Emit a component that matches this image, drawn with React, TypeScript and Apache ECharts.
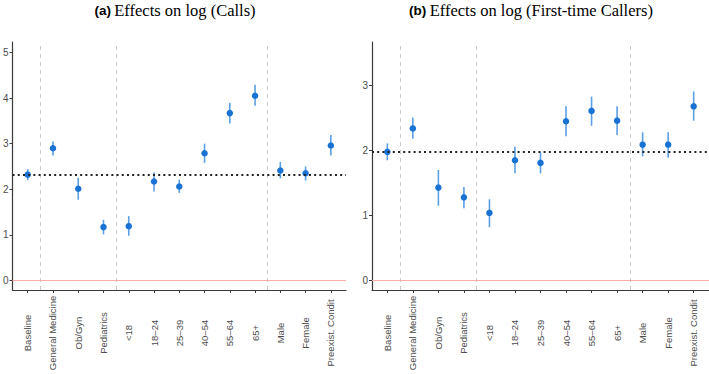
import React, { useEffect, useRef } from "react";
import * as echarts from "echarts";

const categories = [
  "Baseline", "General Medicine", "Ob/Gyn", "Pediatrics", "<18", "18–24", "25–39",
  "40–54", "55–64", "65+", "Male", "Female", "Preexist. Condit",
];

// Panel (a): Effects on log (Calls)
const callsEst = [2.32, 2.9, 2.01, 1.17, 1.19, 2.17, 2.06, 2.79, 3.67, 4.05, 2.41, 2.35, 2.96];
const callsLo = [2.2, 2.74, 1.77, 1.01, 0.98, 1.95, 1.92, 2.58, 3.44, 3.83, 2.24, 2.19, 2.74];
const callsHi = [2.44, 3.05, 2.25, 1.33, 1.41, 2.37, 2.21, 3.0, 3.9, 4.29, 2.6, 2.5, 3.19];
const callsBaseline = 2.31;
const callsTicks = [0, 1, 2, 3, 4, 5];

// Panel (b): Effects on log (First-time Callers)
const firstEst = [1.98, 2.34, 1.43, 1.28, 1.04, 1.85, 1.81, 2.45, 2.61, 2.46, 2.09, 2.09, 2.68];
const firstLo = [1.85, 2.18, 1.15, 1.11, 0.82, 1.65, 1.65, 2.22, 2.38, 2.24, 1.91, 1.89, 2.46];
const firstHi = [2.11, 2.51, 1.7, 1.44, 1.25, 2.06, 1.97, 2.68, 2.83, 2.68, 2.28, 2.28, 2.91];
const firstBaseline = 1.98;
const firstTicks = [0, 1, 2, 3];

const groupBreaks = [0.5, 3.5, 9.5];

const idx = categories.map((_, i) => i);

const POINT = "#1a72d4";
const BAR = "#5b9fe6";
const AXIS = "#3a3a3a";
const LABEL = "#4d4d4d";

function makeX(gridIndex: number) {
  return {
    type: "value",
    gridIndex,
    min: -0.6,
    max: 12.6,
    axisLine: { show: true, onZero: false, lineStyle: { color: AXIS, width: 1.2 } },
    axisTick: { show: true, customValues: idx, length: 3, lineStyle: { color: AXIS } },
    axisLabel: {
      customValues: idx,
      formatter: (v: number) => categories[Math.round(v)] ?? "",
      rotate: 90,
      align: "center",
      verticalAlign: "middle",
      margin: 43,
      fontSize: 9.5,
      color: LABEL,
      fontFamily: "Liberation Sans",
    },
    splitLine: { show: false },
  };
}

function makeY(gridIndex: number, min: number, max: number, ticks: number[]) {
  return {
    type: "value",
    gridIndex,
    min,
    max,
    axisLine: { show: true, onZero: false, lineStyle: { color: AXIS, width: 1.2 } },
    axisTick: { show: true, customValues: ticks, length: 3, lineStyle: { color: AXIS } },
    axisLabel: {
      customValues: ticks,
      margin: 4,
      fontSize: 10,
      color: LABEL,
      fontFamily: "Liberation Sans",
    },
    splitLine: { show: false },
  };
}

function makeSeries(axisIndex: number, est: number[], lo: number[], hi: number[], base: number) {
  return [
    {
      type: "line",
      xAxisIndex: axisIndex,
      yAxisIndex: axisIndex,
      data: [],
      z: 1,
      silent: true,
      markLine: {
        silent: true,
        symbol: "none",
        label: { show: false },
        data: [
          ...groupBreaks.map((b) => ({
            xAxis: b,
            lineStyle: { color: "#c8c8c8", type: [4, 4], width: 1 },
          })),
          { yAxis: 0, lineStyle: { color: "#ffaaaa", type: "solid", width: 1.2 } },
          { yAxis: base, lineStyle: { color: "#222", type: [2, 3.2], width: 1.8 } },
        ],
      },
    },
    {
      type: "custom",
      xAxisIndex: axisIndex,
      yAxisIndex: axisIndex,
      z: 3,
      data: idx.map((i) => [i, lo[i], hi[i]]),
      encode: { x: 0, y: [1, 2] },
      renderItem: (params: any, api: any) => {
        const x = api.value(0);
        const p1 = api.coord([x, api.value(1)]);
        const p2 = api.coord([x, api.value(2)]);
        return {
          type: "line",
          shape: { x1: p1[0], y1: p1[1], x2: p2[0], y2: p2[1] },
          style: { stroke: BAR, lineWidth: 1.6 },
        };
      },
    },
    {
      type: "scatter",
      xAxisIndex: axisIndex,
      yAxisIndex: axisIndex,
      z: 4,
      symbolSize: 6.5,
      itemStyle: { color: POINT, opacity: 1 },
      data: idx.map((i) => [i, est[i]]),
    },
  ];
}

export default function App() {
  const ref = useRef<HTMLDivElement>(null);
  useEffect(() => {
    document.body.style.margin = "0";
    const chart = echarts.init(ref.current!, undefined, { renderer: "svg" });
    const rich = {
      a: { fontFamily: "Liberation Sans", fontWeight: "bold", fontSize: 13.5, color: "#111" },
      b: { fontFamily: "Liberation Serif", fontSize: 16.5, color: "#111" },
    };
    chart.setOption({
      animation: false,
      backgroundColor: "#fff",
      grid: [
        { left: 9, top: 42, width: 337, height: 248 },
        { left: 372, top: 42, width: 337, height: 248 },
      ],
      xAxis: [makeX(0), makeX(1)],
      yAxis: [
        makeY(0, -0.21, 5.23, callsTicks),
        makeY(1, -0.146, 3.67, firstTicks),
      ],
      series: [
        ...makeSeries(0, callsEst, callsLo, callsHi, callsBaseline),
        ...makeSeries(1, firstEst, firstLo, firstHi, firstBaseline),
      ],
      graphic: [
        {
          type: "text",
          x: 175,
          y: 10,
          style: { text: "{a|(a)} {b|Effects on log (Calls)}", rich, align: "center", verticalAlign: "middle" },
        },
        {
          type: "text",
          x: 531,
          y: 10,
          style: {
            text: "{a|(b)} {b|Effects on log (First-time Callers)}",
            rich,
            align: "center",
            verticalAlign: "middle",
          },
        },
      ],
    });
    return () => chart.dispose();
  }, []);
  return <div ref={ref} style={{ width: 709, height: 374 }} />;
}
